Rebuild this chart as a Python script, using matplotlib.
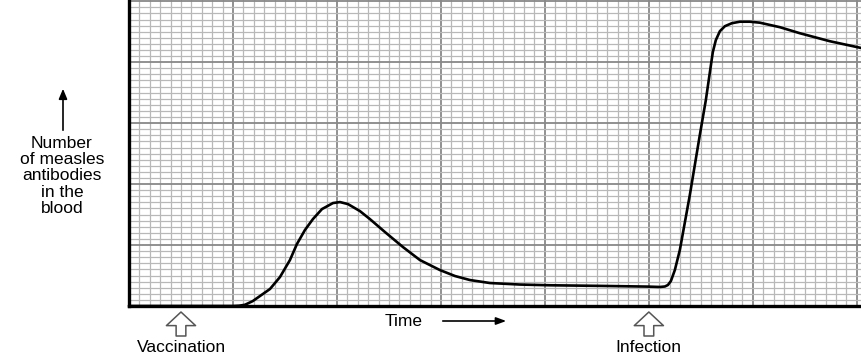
import numpy as np
import matplotlib
matplotlib.use("Agg")
import matplotlib.pyplot as plt
from matplotlib.ticker import MultipleLocator

plt.rcParams["font.family"] = ["Liberation Sans", "DejaVu Sans"]

# antibody curve (x and y in major grid squares)
time_pts = [0.0, 1.0, 1.06, 1.115, 1.19, 1.26, 1.356, 1.452, 1.548, 1.615, 1.692,
            1.769, 1.856, 1.962, 2.029, 2.106, 2.221, 2.317, 2.462, 2.635, 2.798,
            2.99, 3.135, 3.279, 3.471, 3.76, 4.05, 4.53, 5.0, 5.106, 5.154, 5.183,
            5.212, 5.25, 5.298, 5.394, 5.49, 5.548, 5.587, 5.615, 5.644, 5.683,
            5.731, 5.798, 5.875, 5.971, 6.067, 6.26, 6.452, 6.74, 7.05]
antibodies = [0.0, 0.0, 0.005, 0.02, 0.08, 0.164, 0.279, 0.475, 0.754, 1.016, 1.246,
              1.426, 1.59, 1.689, 1.705, 1.672, 1.557, 1.426, 1.213, 0.967, 0.754,
              0.59, 0.492, 0.426, 0.377, 0.352, 0.34, 0.33, 0.318, 0.312, 0.32, 0.344,
              0.41, 0.59, 0.918, 1.82, 2.803, 3.377, 3.836, 4.164, 4.361, 4.508,
              4.59, 4.639, 4.664, 4.664, 4.648, 4.574, 4.475, 4.344, 4.23]
vaccination_x = 0.5
infection_x = 5.0

fig = plt.figure(figsize=(8.62, 3.55), dpi=100)
ax = fig.add_axes([129 / 862, 49 / 355, 733 / 862, 306 / 355])

ax.set_xlim(0, 7.05)
ax.set_ylim(0, 5.02)
ax.xaxis.set_major_locator(MultipleLocator(1))
ax.xaxis.set_minor_locator(MultipleLocator(0.1))
ax.yaxis.set_major_locator(MultipleLocator(1))
ax.yaxis.set_minor_locator(MultipleLocator(0.1))
ax.grid(which="minor", color="#b8b8b8", linewidth=0.9)
ax.grid(which="major", color="#888888", linewidth=1.3)
ax.set_axisbelow(True)
ax.tick_params(which="both", length=0, labelbottom=False, labelleft=False)

for side in ["top", "right"]:
    ax.spines[side].set_visible(False)
for side in ["left", "bottom"]:
    ax.spines[side].set_linewidth(2.4)
    ax.spines[side].set_color("black")

ax.plot(time_pts, antibodies, color="black", linewidth=1.9,
        solid_joinstyle="round", solid_capstyle="round", clip_on=False)

# labels outside the grid
fig.text(62 / 862, 1 - 176 / 355, "Number\nof measles\nantibodies\nin the\nblood",
         ha="center", va="center", fontsize=12.5, linespacing=1.1)
ax.annotate("", xy=(63, 355 - 86), xytext=(63, 355 - 133),
            xycoords="figure pixels", textcoords="figure pixels",
            arrowprops=dict(arrowstyle="-|>,head_length=0.6,head_width=0.25",
                            color="black", lw=1.2))

fig.text(404 / 862, 1 - 321 / 355, "Time", ha="center", va="center", fontsize=12.5)
ax.annotate("", xy=(509, 355 - 321), xytext=(440, 355 - 321),
            xycoords="figure pixels", textcoords="figure pixels",
            arrowprops=dict(arrowstyle="-|>,head_length=0.6,head_width=0.22",
                            color="black", lw=1.2))

for xpos, label in [(vaccination_x, "Vaccination"), (infection_x, "Infection")]:
    ax.annotate("", xy=(xpos, 355 - 312), xytext=(xpos, 355 - 336),
                xycoords=("data", "figure pixels"),
                textcoords=("data", "figure pixels"),
                arrowprops=dict(arrowstyle="simple,head_length=0.7,head_width=1.5,tail_width=0.5",
                                fc="white", ec="#555555", lw=1.1,
                                mutation_scale=14, shrinkA=0, shrinkB=0))
    ax.annotate(label, xy=(xpos, 355 - 347), xycoords=("data", "figure pixels"),
                ha="center", va="center", fontsize=12.5, annotation_clip=False)

fig.savefig("out.png", dpi=100)
